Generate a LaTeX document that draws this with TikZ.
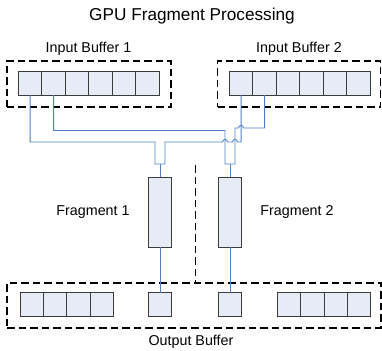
\documentclass[tikz,border=0pt]{standalone}
\usepackage{fontspec}
\setmainfont{Liberation Sans}
\definecolor{cellfill}{HTML}{E6ECF6}
\definecolor{cellline}{HTML}{3C3C3C}
\definecolor{wireblue}{HTML}{4F7FC6}
\begin{document}
\begin{tikzpicture}[x=1pt,y=-1pt,
  cell/.style={draw=cellline,fill=cellfill,line width=0.9pt,minimum width=23.4pt,minimum height=23.3pt,inner sep=0pt,outer sep=0pt},
  frag/.style={draw=cellline,fill=cellfill,line width=1pt,minimum width=23.4pt,minimum height=70pt,inner sep=0pt,outer sep=0pt},
  dbox/.style={draw=black,line width=1.9pt,dash pattern=on 7.5pt off 4pt,inner sep=0pt,outer sep=0pt},
  wire/.style={draw=wireblue,line width=0.9pt},
  lbl/.style={font=\fontsize{14.3}{16}\selectfont,inner sep=0pt},
  ttl/.style={font=\fontsize{17.2}{19}\selectfont,inner sep=0pt}]
\useasboundingbox (0,0) rectangle (382,350);

% titles and labels
\node[ttl] (title) at (192,16) {GPU Fragment Processing};
\node[lbl] (lin1) at (88.5,49) {Input Buffer 1};
\node[lbl] (lin2) at (299,49) {Input Buffer 2};
\node[lbl] (lf1) at (93,212) {Fragment 1};
\node[lbl] (lf2) at (297,212) {Fragment 2};
\node[lbl] (lout) at (191,342) {Output Buffer};

% dashed group boxes
\node[dbox,minimum width=164.3pt,minimum height=46.3pt] (ib1) at (88.85,84.2) {};
\node[dbox,minimum width=163pt,minimum height=46pt] (ib2) at (299,84) {};
\node[dbox,minimum width=373.4pt,minimum height=45pt] (ob) at (194,305.2) {};

% input buffer cells
\foreach \i in {1,...,6} {
  \node[cell] (a\i) at ({18.3+23.5*(\i-0.5)},83.4) {};
  \node[cell] (b\i) at ({229.3+23.5*(\i-0.5)},83.4) {};
}

% output buffer cells
\foreach \i in {1,...,4} {
  \node[cell] (ol\i) at ({20+23.35*(\i-0.5)},304.4) {};
  \node[cell] (or\i) at ({277.3+23.35*(\i-0.5)},304.4) {};
}
\node[cell] (o1) at (160,304.4) {};
\node[cell] (o2) at (230,304.4) {};

% fragment processors
\node[frag] (f1) at (160,212) {};
\node[frag] (f2) at (230,212) {};

% separator between the two fragments
\coordinate (sep) at (195.5,165);
\draw[dbox] (sep) -- (sep |- ob.north);

% merge points feeding each fragment
\coordinate (u1) at (160,164);
\coordinate (u2) at (230,164);

% element 1 of both buffers -> fragment 1
\draw[wire] (a1.south) |- (155,142) |- (u1) -| (165,142)
  -- (222.5,142) .. controls (222.5,138.6) and (227.5,138.6) .. (227.5,142)
  -- (232.5,142) .. controls (232.5,138.6) and (237.5,138.6) .. (237.5,142)
  -- (b1.south |- 0,142) -- (b1.south);

% element 2 of both buffers -> fragment 2
\draw[wire] (a2.south) |- (225,130.5) |- (u2) -| (235,128)
  -- (238.5,128) .. controls (238.5,124.6) and (243.5,124.6) .. (243.5,128)
  -- (b2.south |- 0,128) -- (b2.south);

% fragment inputs and outputs
\draw[wire] (u1) -- (f1.north);
\draw[wire] (u2) -- (f2.north);
\draw[wire] (f1.south) -- (o1.north);
\draw[wire] (f2.south) -- (o2.north);
\end{tikzpicture}
\end{document}
